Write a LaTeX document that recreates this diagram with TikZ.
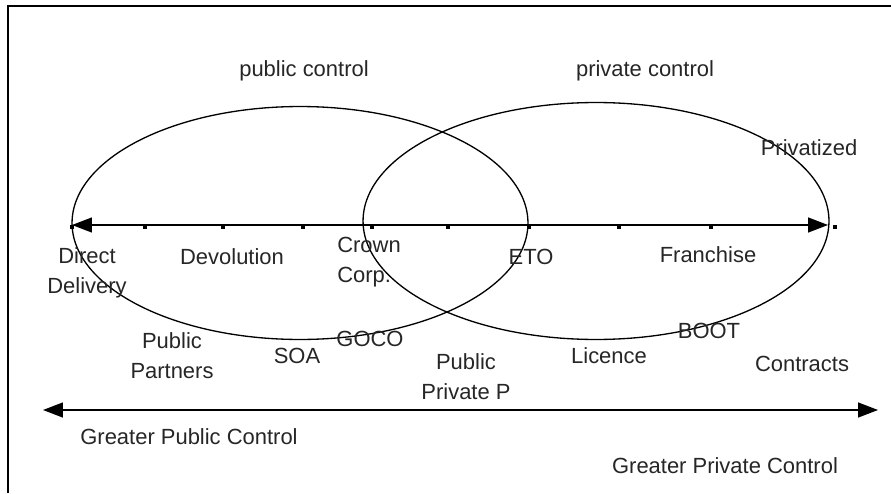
\documentclass[tikz,border=0pt]{standalone}
\usepackage{fontspec}
\setmainfont{Liberation Sans}
\usetikzlibrary{arrows.meta}

\begin{document}
\begin{tikzpicture}[
  x=0.02cm,
  y=-0.02cm,
  label text/.style={font=\fontsize{12.5}{17}\selectfont, text=black!85,
    inner sep=0pt, align=center},
  frame line/.style={draw=black, line width=0.85pt},
  zone/.style={draw=black, line width=0.75pt},
  scale axis/.style={draw=black, line width=0.8pt,
    {Triangle[length=0.4cm,width=0.3cm]}-{Triangle[length=0.4cm,width=0.3cm]}},
  tick mark/.style={fill=black, minimum size=0.09cm, inner sep=0pt}
]
  \path[use as bounding box] (0,0) rectangle (891,493);

  % Partial frame round the figure.
  \draw[frame line] (8,493) -- (8,6) -- (891,6);

  % The two overlapping zones of control.
  \draw[zone] (300,223) ellipse [x radius=4.56cm, y radius=2.33cm];
  \draw[zone] (596,221) ellipse [x radius=4.66cm, y radius=2.37cm];
  \node[label text] (public zone) at (304,71) {public control};
  \node[label text] (private zone) at (645,71) {private control};

  % Spectrum of delivery options.
  \coordinate (axis start) at (72,225);
  \coordinate (axis end) at (828,225);
  \draw[scale axis] (axis start) -- (axis end);
  \foreach \tx in {72,145,223,303,372,448,529,619,711,835}
    \node[tick mark] at (\tx,227) {};

  \node[label text] (direct) at (87,273) {Direct\\Delivery};
  \node[label text] (devolution) at (232,257) {Devolution};
  \node[label text, align=left] (crown) at (369,262) {Crown\\Corp.};
  \node[label text] (eto) at (531,257) {ETO};
  \node[label text] (franchise) at (708,255) {Franchise};
  \node[label text] (privatized) at (809,148) {Privatized};

  % Arrangements below the spectrum.
  \node[label text] (partners) at (172,356) {Public\\Partners};
  \node[label text] (soa) at (297,356) {SOA};
  \node[label text] (goco) at (370,339) {GOCO};
  \node[label text] (ppp) at (466,377) {Public\\Private P};
  \node[label text] (licence) at (609,356) {Licence};
  \node[label text] (boot) at (709,331) {BOOT};
  \node[label text] (contracts) at (802,364) {Contracts};

  % Overall direction of control.
  \coordinate (control start) at (43,410);
  \coordinate (control end) at (878,410);
  \draw[scale axis] (control start) -- (control end);
  \node[label text] (greater public) at (189,437) {Greater Public Control};
  \node[label text] (greater private) at (725,466) {Greater Private Control};
\end{tikzpicture}
\end{document}
